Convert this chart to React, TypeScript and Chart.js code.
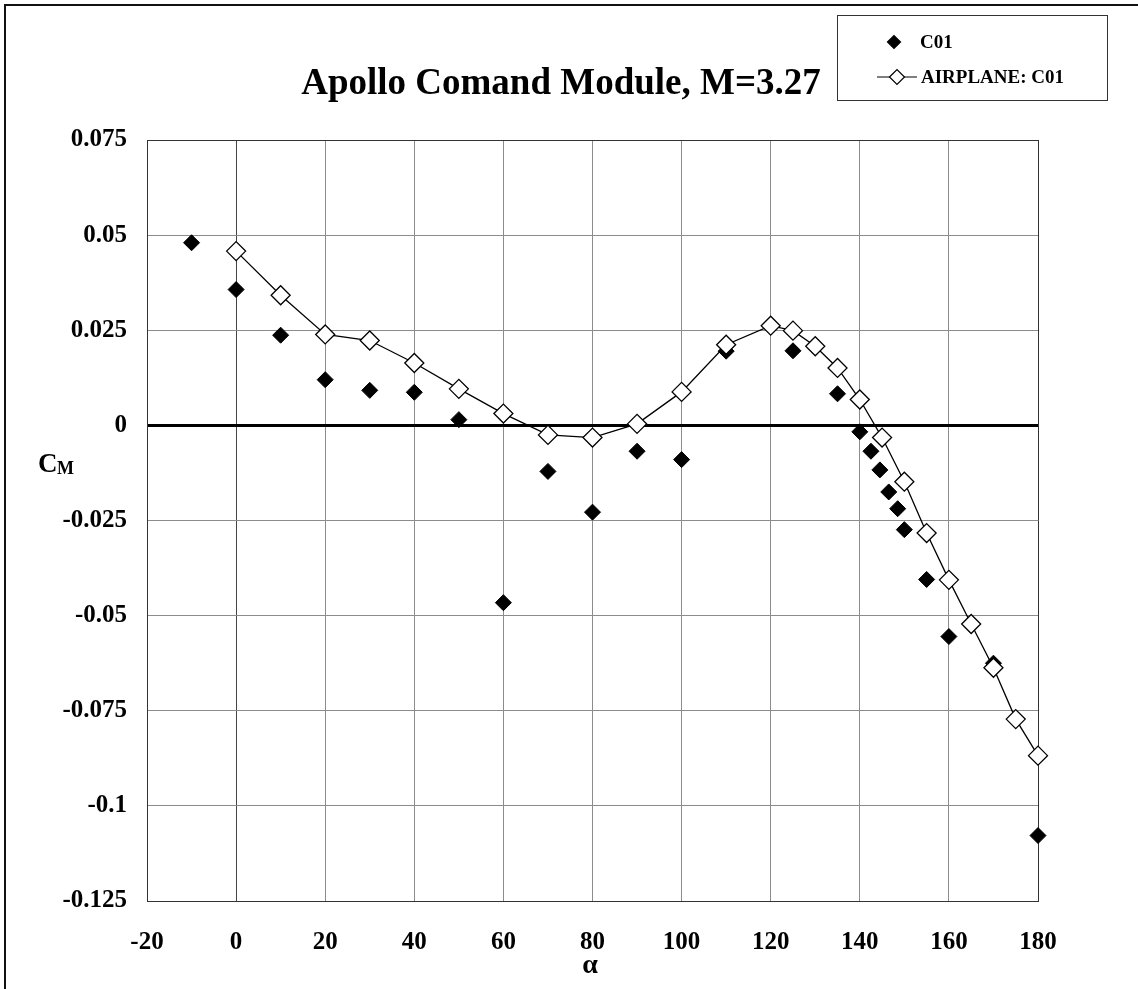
import React, { useEffect, useRef } from "react";
import { Chart, registerables } from "chart.js";

Chart.register(...registerables);

const c01Alpha = [-10, 0, 10, 20, 30, 40, 50, 60, 70, 80, 90, 100, 110, 125, 135, 140, 142.5, 144.5, 146.5, 148.5, 150, 155, 160, 170, 180];
const c01Cm = [0.048, 0.0357, 0.0237, 0.012, 0.0092, 0.0087, 0.0015, -0.0466, -0.0121, -0.0228, -0.0068, -0.009, 0.0195, 0.0196, 0.0083, -0.0017, -0.0068, -0.0117, -0.0175, -0.0219, -0.0274, -0.0405, -0.0555, -0.0625, -0.1078];

const airAlpha = [0, 10, 20, 30, 40, 50, 60, 70, 80, 90, 100, 110, 120, 125, 130, 135, 140, 145, 150, 155, 160, 165, 170, 175, 180];
const airCm = [0.0458, 0.0342, 0.0239, 0.0223, 0.0164, 0.0096, 0.0031, -0.0025, -0.0032, 0.0004, 0.0088, 0.0212, 0.0262, 0.0249, 0.0208, 0.0151, 0.0068, -0.0032, -0.0148, -0.0283, -0.0406, -0.0522, -0.0637, -0.0772, -0.0868];

const xTicks = [-20, 0, 20, 40, 60, 80, 100, 120, 140, 160, 180];
const yTicks = [-0.125, -0.1, -0.075, -0.05, -0.025, 0, 0.025, 0.05, 0.075];
const yTickLabels = ["-0.125", "-0.1", "-0.075", "-0.05", "-0.025", "0", "0.025", "0.05", "0.075"];

const titleText = "Apollo Comand Module, M=3.27";
const legendLabels = ["C01", "AIRPLANE: C01"];

const FONT = "'Liberation Serif', 'Times New Roman', serif";

const decorPlugin = {
  id: "decor",
  beforeDraw(chart: any) {
    const ctx = chart.ctx;
    ctx.save();
    ctx.fillStyle = "#fff";
    ctx.fillRect(0, 0, chart.width, chart.height);
    ctx.fillStyle = "#111";
    ctx.fillRect(4, 4, chart.width, 2);
    ctx.fillRect(4, 4, 2, chart.height);
    ctx.restore();
  },
  afterDraw(chart: any) {
    const ctx = chart.ctx;
    ctx.save();
    // title
    ctx.fillStyle = "#000";
    ctx.font = `bold 37px ${FONT}`;
    ctx.textAlign = "center";
    ctx.textBaseline = "alphabetic";
    ctx.fillText(titleText, 561, 94);

    // legend box
    ctx.strokeStyle = "#333";
    ctx.lineWidth = 1;
    ctx.strokeRect(837.5, 15.5, 270, 85);

    const drawDiamond = (x: number, y: number, r: number, fill: string) => {
      ctx.beginPath();
      ctx.moveTo(x - r, y);
      ctx.lineTo(x, y - r);
      ctx.lineTo(x + r, y);
      ctx.lineTo(x, y + r);
      ctx.closePath();
      ctx.fillStyle = fill;
      ctx.fill();
      ctx.strokeStyle = "#000";
      ctx.lineWidth = 1.2;
      ctx.stroke();
    };
    const row1 = 42;
    const row2 = 77;
    drawDiamond(894, row1, 6.5, "#000");
    ctx.beginPath();
    ctx.moveTo(877, row2);
    ctx.lineTo(917, row2);
    ctx.strokeStyle = "#000";
    ctx.lineWidth = 1.2;
    ctx.stroke();
    drawDiamond(897, row2, 7.5, "#fff");
    ctx.fillStyle = "#000";
    ctx.font = `bold 19px ${FONT}`;
    ctx.textAlign = "left";
    ctx.textBaseline = "middle";
    ctx.fillText(legendLabels[0], 920, row1 + 1);
    ctx.fillText(legendLabels[1], 921, row2 + 1);

    // axis titles
    ctx.textBaseline = "alphabetic";
    ctx.font = `bold 27px ${FONT}`;
    ctx.fillText("C", 38, 472);
    ctx.font = `bold 18px ${FONT}`;
    ctx.fillText("M", 57, 474);
    ctx.textAlign = "center";
    ctx.font = `bold 28px ${FONT}`;
    ctx.fillText("α", 590, 973);
    ctx.restore();
  },
};

export default function App() {
  const ref = useRef<HTMLCanvasElement>(null);
  useEffect(() => {
    if (!ref.current) return;
    const chart = new Chart(ref.current, {
      type: "scatter",
      data: {
        datasets: [
          {
            label: legendLabels[0],
            data: c01Alpha.map((a, i) => ({ x: a, y: c01Cm[i] })),
            showLine: false,
            pointStyle: "rectRot",
            pointRadius: 8,
            backgroundColor: "#000",
            borderColor: "#000",
            borderWidth: 1,
            clip: false,
            order: 2,
          },
          {
            label: legendLabels[1],
            data: airAlpha.map((a, i) => ({ x: a, y: airCm[i] })),
            showLine: true,
            tension: 0,
            pointStyle: "rectRot",
            pointRadius: 9.5,
            backgroundColor: "#fff",
            borderColor: "#000",
            borderWidth: 1.3,
            clip: false,
            order: 1,
          },
        ],
      },
      plugins: [decorPlugin],
      options: {
        animation: false,
        responsive: false,
        layout: { padding: { top: 140, right: 100, left: 0, bottom: 0 } },
        plugins: {
          legend: { display: false },
          title: { display: false },
          tooltip: { enabled: false },
        },
        scales: {
          x: {
            type: "linear",
            min: -20,
            max: 180,
            afterBuildTicks: (s: any) => {
              s.ticks = xTicks.map((v) => ({ value: v }));
            },
            afterFit: (s: any) => {
              s.height = 88;
            },
            ticks: {
              color: "#000",
              padding: 27,
              font: { family: FONT, size: 25, weight: "bold" },
              maxRotation: 0,
              callback: (v: any) => String(v),
            },
            grid: {
              drawTicks: false,
              color: (c: any) =>
                c.tick && c.tick.value === 0
                  ? "#444"
                  : c.tick && (c.tick.value === 180 || c.tick.value === -20)
                  ? "#333"
                  : "#8c8c8c",
              lineWidth: 1,
            },
            border: { display: true, color: "#333", width: 1 },
          },
          y: {
            type: "linear",
            min: -0.125,
            max: 0.075,
            afterBuildTicks: (s: any) => {
              s.ticks = yTicks.map((v) => ({ value: v }));
            },
            afterFit: (s: any) => {
              s.width = 147;
            },
            ticks: {
              color: "#000",
              padding: 20,
              font: { family: FONT, size: 25, weight: "bold" },
              callback: (v: any) => {
                const i = yTicks.findIndex((t) => Math.abs(t - v) < 1e-9);
                return i >= 0 ? yTickLabels[i] : "";
              },
            },
            grid: {
              drawTicks: false,
              color: (c: any) =>
                c.tick && Math.abs(c.tick.value) < 1e-9
                  ? "#000"
                  : c.tick && (c.tick.value === 0.075 || c.tick.value === -0.125)
                  ? "#333"
                  : "#8c8c8c",
              lineWidth: (c: any) => (c.tick && Math.abs(c.tick.value) < 1e-9 ? 3 : 1),
            },
            border: { display: true, color: "#333", width: 1 },
          },
        },
      },
    });
    return () => chart.destroy();
  }, []);
  return (
    <div style={{ position: "absolute", left: 0, top: 0, width: 1138, height: 989, background: "#fff" }}>
      <canvas ref={ref} width={1138} height={989} style={{ width: 1138, height: 989, display: "block" }} />
    </div>
  );
}
